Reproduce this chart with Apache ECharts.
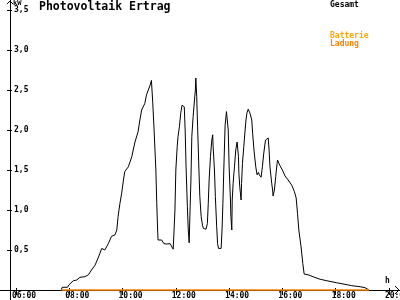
<!DOCTYPE html>
<html><head><meta charset="utf-8">
<script src="https://cdn.jsdelivr.net/npm/echarts@6/dist/echarts.min.js"></script>
<style>html,body{margin:0;padding:0;background:#fff}#c{width:400px;height:300px}</style>
</head><body><div id="c"></div>
<script>
var titleText = "Photovoltaik Ertrag";
var yUnit = "kW";
var xUnit = "h";
var legendNames = ["Gesamt", "Batterie", "Ladung"];
var xTickHours = [6, 8, 10, 12, 14, 16, 18, 20];
var yTickValues = [0.5, 1.0, 1.5, 2.0, 2.5, 3.0, 3.5];

var gesamtTimes = ["07:42","07:44","07:56","07:59","08:09","08:17","08:24","08:35","08:43","08:50","08:58","09:05","09:13","09:20","09:28","09:35","09:43","09:47","09:50","09:54","09:58","10:02","10:05","10:13","10:21","10:24","10:28","10:35","10:39","10:43","10:50","10:54","11:02","11:05","11:08","11:11","11:15","11:17","11:19","11:20","11:28","11:33","11:39","11:43","11:47","11:51","11:54","11:56","11:58","12:00","12:03","12:05","12:08","12:11","12:14","12:17","12:19","12:21","12:23","12:26","12:28","12:30","12:32","12:34","12:36","12:39","12:42","12:44","12:45","12:47","12:49","12:52","12:54","12:57","13:00","13:02","13:08","13:11","13:13","13:15","13:18","13:21","13:23","13:24","13:27","13:29","13:32","13:34","13:36","13:42","13:44","13:46","13:48","13:51","13:54","13:57","13:58","14:00","14:03","14:04","14:06","14:07","14:09","14:12","14:15","14:18","14:21","14:22","14:24","14:27","14:28","14:30","14:33","14:36","14:38","14:40","14:43","14:47","14:51","14:53","14:56","15:00","15:03","15:06","15:08","15:12","15:15","15:18","15:22","15:26","15:28","15:30","15:32","15:36","15:38","15:39","15:42","15:45","15:48","15:49","15:54","16:00","16:06","16:13","16:21","16:27","16:31","16:34","16:37","16:42","16:46","16:49","16:58","17:09","17:25","17:40","18:02","18:21","18:36","18:55","19:06","19:15"];
var gesamtValues = [0,0.034,0.034,0.063,0.116,0.125,0.159,0.166,0.19,0.25,0.31,0.40,0.52,0.50,0.58,0.67,0.69,0.75,0.92,1.08,1.21,1.375,1.48,1.54,1.67,1.75,1.85,1.98,2.125,2.25,2.33,2.44,2.56,2.62,2.34,2.0,1.5,1.09,0.75,0.625,0.625,0.58,0.575,0.60,0.58,0.56,0.51,0.75,1.0,1.5,1.79,1.92,2.04,2.21,2.31,2.33,2.29,2.0,1.54,1.04,0.75,0.59,1.0,1.375,1.92,2.17,2.375,2.5,2.65,2.42,2.04,1.5,1.17,0.92,0.81,0.77,0.76,0.83,1.08,1.375,1.67,1.875,1.94,1.79,1.5,1.17,0.79,0.58,0.52,0.52,0.75,1.08,1.5,2.06,2.23,2.25,2.0,1.54,1.125,0.92,0.75,1.125,1.33,1.54,1.75,1.85,1.67,1.46,1.29,1.125,1.33,1.58,1.79,2.0,2.125,2.21,2.26,2.21,2.125,1.96,1.75,1.54,1.44,1.47,1.44,1.41,1.54,1.71,1.875,1.90,1.90,1.75,1.54,1.33,1.25,1.175,1.25,1.42,1.58,1.625,1.56,1.5,1.425,1.375,1.31,1.23,1.15,0.96,0.75,0.54,0.33,0.2,0.19,0.166,0.134,0.116,0.091,0.071,0.054,0.041,0.029,0];
var ladungTimes = ["07:42","19:15"];
var ladungValues = [0, 0];

function toHours(s){ var p = s.split(":"); return +p[0] + (+p[1])/60; }
function pairs(ts, vs){ return ts.map(function(t,i){ return [toHours(t), vs[i]]; }); }

var PXH = 26.64;            // px per hour
var X0 = 6 - 16/PXH;        // value at left edge
var X1 = 6 + 384/PXH;       // value at right edge
var SHIFT = 8/PXH;          // label shift
var Y0 = -10/80, Y1 = 290/80;

var mono = "DejaVu Sans Mono";
var chart = echarts.init(document.getElementById('c'), null, {renderer:'canvas'});
var xLab = function(v){ return (v<10?'0':'') + v + ':00'; };
var yLab = function(v){ return v.toFixed(1).replace('.', ','); };
chart.setOption({
  animation:false,
  backgroundColor:'#fff',
  grid:{left:0,right:0,top:0,bottom:0,containLabel:false,outerBoundsMode:'none'},
  title:{text:titleText,left:39,top:1,padding:0,textStyle:{fontFamily:mono,fontSize:11.5,fontWeight:'bold',color:'#000'}},
  xAxis:[
    {type:'value',min:X0,max:X1,position:'bottom',offset:-10,axisLine:{show:true,onZero:false,lineStyle:{color:'#000',width:1}},
     axisTick:{show:true,inside:false,length:5,customValues:xTickHours,lineStyle:{color:'#000'}},
     axisLabel:{show:false},splitLine:{show:false}},
    {type:'value',min:X0,max:X1,position:'bottom',offset:-10,axisLine:{show:false,onZero:false},
     axisTick:{show:true,inside:true,length:2,customValues:xTickHours,lineStyle:{color:'#000'}},
     axisLabel:{show:false},splitLine:{show:false}},
    {type:'value',min:X0-SHIFT,max:X1-SHIFT,position:'bottom',offset:-10,axisLine:{show:false,onZero:false},
     axisTick:{show:false},splitLine:{show:false},
     axisLabel:{show:true,customValues:xTickHours,formatter:xLab,margin:2,fontFamily:mono,fontSize:8,fontWeight:'bold',color:'#000',showMinLabel:true,showMaxLabel:true,hideOverlap:false}}
  ],
  yAxis:[
    {type:'value',min:Y0,max:Y1,position:'left',offset:-10,axisLine:{show:true,onZero:false,lineStyle:{color:'#000'}},
     axisTick:{show:true,inside:false,length:3,customValues:yTickValues,lineStyle:{color:'#000'}},
     axisLabel:{show:true,inside:true,margin:4,customValues:yTickValues,formatter:yLab,fontFamily:mono,fontSize:8,fontWeight:'bold',color:'#000'},
     splitLine:{show:false}},
    {type:'value',min:Y0,max:Y1,position:'left',offset:-10,axisLine:{show:false,onZero:false},
     axisTick:{show:true,inside:true,length:2,customValues:yTickValues,lineStyle:{color:'#000'}},
     axisLabel:{show:false},splitLine:{show:false}}
  ],
  series:[
    {name:legendNames[0],type:'line',xAxisIndex:0,yAxisIndex:0,data:pairs(gesamtTimes,gesamtValues),showSymbol:false,symbol:'none',
     lineStyle:{color:'#000',width:1},itemStyle:{color:'#000'},z:3},
    {name:legendNames[2],type:'line',xAxisIndex:0,yAxisIndex:0,data:pairs(ladungTimes,ladungValues),showSymbol:false,symbol:'none',
     lineStyle:{color:'#FF8000',width:1.5},itemStyle:{color:'#FF8000'},z:4}
  ],
  graphic:[
    {type:'polyline',shape:{points:[[7,4],[10,1],[13,4]]},style:{stroke:'#000',fill:null,lineWidth:1}},
    {type:'polyline',shape:{points:[[395,286],[399,290],[395,294]]},style:{stroke:'#000',fill:null,lineWidth:1}},
    {type:'text',left:13,top:0,style:{text:yUnit,font:'bold 7px '+mono,fill:'#000'}},
    {type:'text',left:385,top:277,style:{text:xUnit,font:'bold 8px '+mono,fill:'#000'}},
    {type:'text',left:330,top:1,style:{text:legendNames[0],font:'bold 8px '+mono,fill:'#000'}},
    {type:'text',left:330,top:32,style:{text:legendNames[1],font:'bold 8px '+mono,fill:'#FFA500'}},
    {type:'text',left:330,top:40,style:{text:legendNames[2],font:'bold 8px '+mono,fill:'#FF8000'}}
  ]
});
</script></body></html>
